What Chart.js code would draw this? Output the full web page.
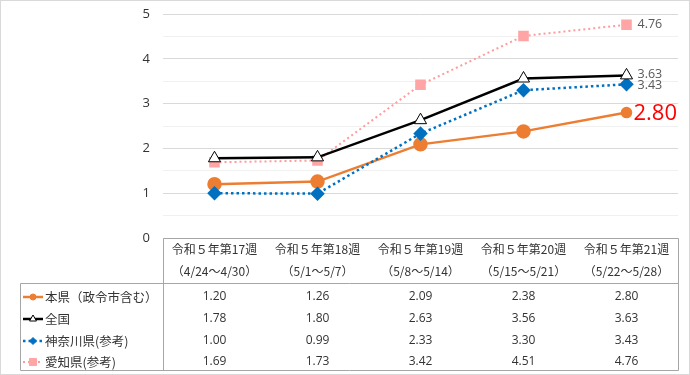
<!DOCTYPE html>
<html>
<head>
<meta charset="utf-8">
<script src="https://cdn.jsdelivr.net/npm/chart.js@4/dist/chart.umd.min.js"></script>
<style>
  html, body { margin: 0; padding: 0; background: #fff; }
  #wrap { width: 688px; height: 373px; border: 1px solid #d9d9d9; }
</style>
</head>
<body>
<div id="wrap"><canvas id="lineChart" width="688" height="373"></canvas></div>
<script>
// Data
const weeks = ['令和５年第17週', '令和５年第18週', '令和５年第19週', '令和５年第20週', '令和５年第21週'];
const periods = ['（4/24～4/30）', '（5/1～5/7）', '（5/8～5/14）', '（5/15～5/21）', '（5/22～5/28）'];
const seriesNames = ['本県（政令市含む）', '全国', '神奈川県(参考)', '愛知県(参考)'];
const kanagawaPref = [1.20, 1.26, 2.09, 2.38, 2.80];
const national = [1.78, 1.80, 2.63, 3.56, 3.63];
const kanagawaRef = [1.00, 0.99, 2.33, 3.30, 3.43];
const aichi = [1.69, 1.73, 3.42, 4.51, 4.76];
const yTicks = [0, 1, 2, 3, 4, 5];

const FONT = '"Noto Sans CJK JP", "Noto Sans", sans-serif';
const NUMFONT = '"Open Sans", "Noto Sans", sans-serif';
const tableTop = 237, tableMid = 282, tableBottom = 369, labelLeft = 19;
const rowY = [296, 318, 340, 361];

function drawKey(ctx, ds, cx, cy) {
    ctx.save();
    ctx.strokeStyle = ds.borderColor;
    ctx.lineWidth = ds.borderWidth;
    ctx.setLineDash(ds.borderDash || []);
    ctx.beginPath();
    ctx.moveTo(cx - 10, cy);
    ctx.lineTo(cx + 10, cy);
    ctx.stroke();
    ctx.setLineDash([]);
    ctx.fillStyle = ds.backgroundColor;
    ctx.strokeStyle = ds.pointStyle === 'triangle' ? '#000' : ds.backgroundColor;
    ctx.lineWidth = 1;
    Chart.helpers.drawPoint(ctx, {
        pointStyle: ds.pointStyle,
        radius: ds.keyRadius,
        borderWidth: 1
    }, cx, cy);
    ctx.restore();
}

// table under the plot + last point labels
const tablePlugin = {
    id: 'tablePlugin',
    afterDraw(chart) {
        const ctx = chart.ctx;
        const x = chart.scales.x;
        const area = chart.chartArea;
        ctx.save();

        // last point labels
        chart.data.datasets.forEach((ds, i) => {
            const pts = chart.getDatasetMeta(i).data;
            const p = pts[pts.length - 1];
            const v = ds.data[ds.data.length - 1];
            ctx.textBaseline = 'middle';
            ctx.textAlign = 'left';
            if (i === 0) {
                ctx.fillStyle = '#ff0000';
                ctx.font = '22px ' + NUMFONT;
                ctx.fillText(v.toFixed(2), p.x + 7, p.y + 1);
            } else {
                ctx.fillStyle = '#595959';
                ctx.font = '12.5px ' + NUMFONT;
                const dy = i === 1 ? -1 : (i === 2 ? 1 : 0);
                ctx.fillText(v.toFixed(2), p.x + 11, p.y + dy);
            }
        });

        // grid of the table
        ctx.strokeStyle = '#a6a6a6';
        ctx.lineWidth = 1;
        ctx.beginPath();
        ctx.moveTo(area.left + 0.5, tableTop + 0.5);
        ctx.lineTo(area.right + 0.5, tableTop + 0.5);
        ctx.lineTo(area.right + 0.5, tableBottom + 0.5);
        ctx.lineTo(labelLeft + 0.5, tableBottom + 0.5);
        ctx.lineTo(labelLeft + 0.5, tableMid + 0.5);
        ctx.lineTo(area.right + 0.5, tableMid + 0.5);
        ctx.moveTo(area.left + 0.5, tableTop + 0.5);
        ctx.lineTo(area.left + 0.5, tableBottom + 0.5);
        ctx.stroke();

        // header
        ctx.fillStyle = '#333';
        ctx.font = '12px ' + FONT;
        ctx.textAlign = 'center';
        ctx.textBaseline = 'middle';
        weeks.forEach((w, i) => {
            const cx = x.getPixelForValue(i);
            ctx.fillText(w, cx, 248);
            ctx.fillText(periods[i], cx, 270);
        });

        // rows
        chart.data.datasets.forEach((ds, r) => {
            const cy = rowY[r];
            drawKey(ctx, ds, 32, cy);
            ctx.fillStyle = '#333';
            ctx.font = '12.5px ' + FONT;
            ctx.textAlign = 'left';
            ctx.fillText(seriesNames[r], 44, cy);
            ctx.textAlign = 'center';
            ctx.font = '12px ' + NUMFONT;
            ds.data.forEach((v, i) => {
                ctx.fillText(v.toFixed(2), x.getPixelForValue(i), cy);
            });
        });
        ctx.restore();
    }
};

let lineChart;

function initChart() {
    const ctx = document.getElementById('lineChart');
    if (lineChart) lineChart.destroy();
    lineChart = new Chart(ctx, {
        type: 'line',
        data: {
            labels: weeks,
            datasets: [{
                label: seriesNames[0],
                data: kanagawaPref,
                borderColor: '#ed7d31',
                backgroundColor: '#ed7d31',
                borderWidth: 2.5,
                pointStyle: 'circle',
                pointRadius: [6, 6, 6, 6, 4.5],
                keyRadius: 3,
                order: 3
            }, {
                label: seriesNames[1],
                data: national,
                borderColor: '#000000',
                backgroundColor: '#ffffff',
                borderWidth: 2.5,
                pointStyle: 'triangle',
                pointRadius: 7,
                pointBorderWidth: 1,
                keyRadius: 4,
                order: 1
            }, {
                label: seriesNames[2],
                data: kanagawaRef,
                borderColor: '#0070c0',
                backgroundColor: '#0070c0',
                borderWidth: 2.5,
                borderDash: [2.5, 3],
                pointStyle: 'rectRot',
                pointRadius: 5.5,
                keyRadius: 3.5,
                order: 2
            }, {
                label: seriesNames[3],
                data: aichi,
                borderColor: '#ff9b9b',
                backgroundColor: '#ffa5a5',
                borderWidth: 2,
                borderDash: [2, 3],
                pointStyle: 'rect',
                pointRadius: 7.5,
                pointBorderWidth: 0,
                keyRadius: 5,
                order: 4
            }]
        },
        options: {
            responsive: false,
            animation: false,
            layout: { padding: { top: 13, right: 11, bottom: 136, left: 0 } },
            plugins: {
                legend: { display: false },
                tooltip: { enabled: false }
            },
            scales: {
                x: {
                    display: false,
                    offset: true
                },
                y: {
                    min: 0,
                    max: 5,
                    afterFit(scale) {
                        scale.width = 162;
                        scale.paddingTop = 0;
                        scale.paddingBottom = 0;
                    },
                    afterBuildTicks(scale) {
                        scale.ticks = [];
                        for (let i = 0; i <= 10; i++) scale.ticks.push({ value: i / 2 });
                    },
                    border: { display: false },
                    grid: {
                        drawTicks: false,
                        color: (c) => (c.tick.value % 1 === 0 ? '#d9d9d9' : '#f0f0f0')
                    },
                    ticks: {
                        padding: 13,
                        color: '#333',
                        font: { family: NUMFONT, size: 13 },
                        callback: (v) => (yTicks.includes(v) ? String(v) : '')
                    }
                }
            }
        },
        plugins: [tablePlugin]
    });
}

window.addEventListener('DOMContentLoaded', () => {
    initChart();
});
</script>
</body>
</html>
